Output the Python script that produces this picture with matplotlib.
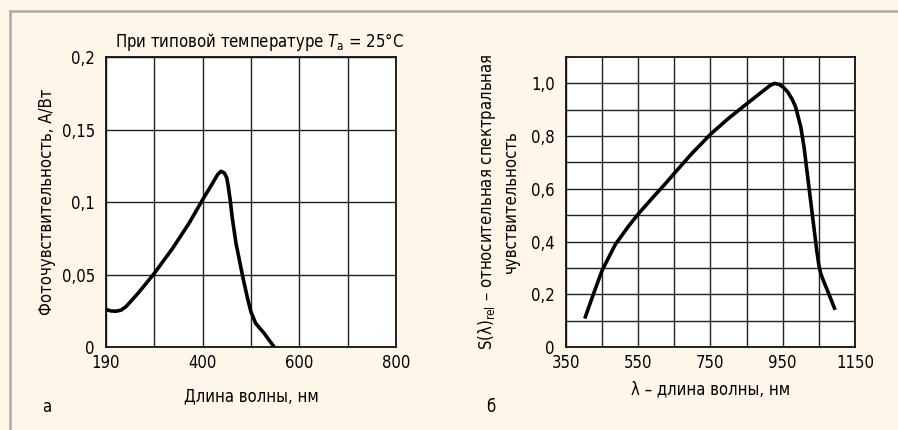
import matplotlib.pyplot as plt
from matplotlib.lines import Line2D

# Panel a: photosensitivity, A/W vs wavelength, nm
wl_a = [200, 210, 221, 231, 241, 255, 269, 300, 338, 372, 400, 421, 431,
        438, 445, 450, 453, 457, 461, 469, 483, 493, 500, 510, 528, 548]
sens_a = [0.0259, 0.0249, 0.0247, 0.0254, 0.0277, 0.0328, 0.0381, 0.0508,
          0.0681, 0.0854, 0.1016, 0.1132, 0.1189, 0.1212, 0.120, 0.1166,
          0.1109, 0.1016, 0.090, 0.0716, 0.0485, 0.0335, 0.0242, 0.0162,
          0.0092, 0.0]
xticks_a = [200, 400, 600, 800]
xlabels_a = ['190', '400', '600', '800']
xgrid_a = [300, 500, 700]
yticks_a = [0, 0.05, 0.1, 0.15, 0.2]
ylabels_a = ['0', '0,05', '0,1', '0,15', '0,2']

# Panel b: relative spectral sensitivity vs wavelength, nm
wl_b = [402, 423, 450, 487, 523, 549, 587, 624, 650, 697, 750, 797, 849,
        898, 915, 927, 940, 952, 964, 976, 986, 1000, 1009, 1018, 1027,
        1036, 1044, 1050, 1055, 1063, 1073, 1095]
sens_b = [0.108, 0.19, 0.291, 0.39, 0.458, 0.503, 0.562, 0.618, 0.659,
          0.732, 0.807, 0.864, 0.921, 0.974, 0.992, 1.0, 0.996, 0.985,
          0.967, 0.94, 0.909, 0.834, 0.758, 0.657, 0.557, 0.456, 0.368,
          0.31, 0.28, 0.25, 0.217, 0.141]
xticks_b = [350, 550, 750, 950, 1150]
xlabels_b = ['350', '550', '750', '950', '1150']
xgrid_b = [450, 650, 850, 1050]
yticks_b = [0, 0.2, 0.4, 0.6, 0.8, 1.0]
ylabels_b = ['0', '0,2', '0,4', '0,6', '0,8', '1,0']
ygrid_b = [0.1, 0.3, 0.5, 0.7, 0.9]

plt.rcParams['font.family'] = ['DejaVu Sans']
plt.rcParams['font.stretch'] = 'condensed'
bg = '#fdf6e9'
fs = 12

fig = plt.figure(figsize=(8.98, 4.30), dpi=100, facecolor=bg)
ax1 = fig.add_axes([0.1180, 0.1930, 0.3229, 0.6744])
ax2 = fig.add_axes([0.6303, 0.1930, 0.3218, 0.6744])

for ax in (ax1, ax2):
    ax.set_facecolor('white')
    ax.set_axisbelow(True)
    ax.tick_params(which='both', length=0, labelsize=fs, pad=8)
    ax.tick_params(axis='x', pad=5)
    for sp in ax.spines.values():
        sp.set_linewidth(1.3)
        sp.set_color('#111111')

# panel a
ax1.plot(wl_a, sens_a, color='black', linewidth=2.6, solid_capstyle='butt')
ax1.set_xlim(200, 800)
ax1.set_ylim(0, 0.2)
ax1.set_xticks(xticks_a)
ax1.set_xticklabels(xlabels_a)
ax1.set_xticks(xgrid_a, minor=True)
ax1.set_yticks(yticks_a)
ax1.set_yticklabels(ylabels_a)
ax1.grid(True, which='both', color='#222222', linewidth=1.0)
ax1.set_xlabel('Длина волны, нм', fontsize=fs, labelpad=11)
ax1.set_ylabel('Фоточувствительность, А/Вт', fontsize=fs, labelpad=4)
ax1.set_title('При типовой температуре $T_{\\rm a}$ = 25°C', fontsize=fs,
              pad=7, x=0.53)
fig.text(0.047, 0.042, 'а', fontsize=fs)

# panel b
ax2.plot(wl_b, sens_b, color='black', linewidth=2.6, solid_capstyle='butt')
ax2.set_xlim(350, 1150)
ax2.set_ylim(0, 1.1)
ax2.set_xticks(xticks_b)
ax2.set_xticklabels(xlabels_b)
ax2.set_xticks(xgrid_b, minor=True)
ax2.set_yticks(yticks_b)
ax2.set_yticklabels(ylabels_b)
ax2.set_yticks(ygrid_b, minor=True)
ax2.grid(True, which='both', color='#222222', linewidth=1.0)
ax2.set_xlabel('λ – длина волны, нм', fontsize=fs, labelpad=6)
ax2.set_ylabel('S(λ)$_{\\rm rel}$ – относительная спектральная\nчувствительность',
               fontsize=fs, labelpad=8, linespacing=1.3)
fig.text(0.541, 0.042, 'б', fontsize=fs)

# gray frame at top and left
fig.add_artist(Line2D([0.011, 1.0], [0.974, 0.974], color='#aaaaaa', linewidth=1.8))
fig.add_artist(Line2D([0.011, 0.011], [0.0, 0.974], color='#aaaaaa', linewidth=1.8))

fig.savefig('out.png', dpi=100, facecolor=bg)
